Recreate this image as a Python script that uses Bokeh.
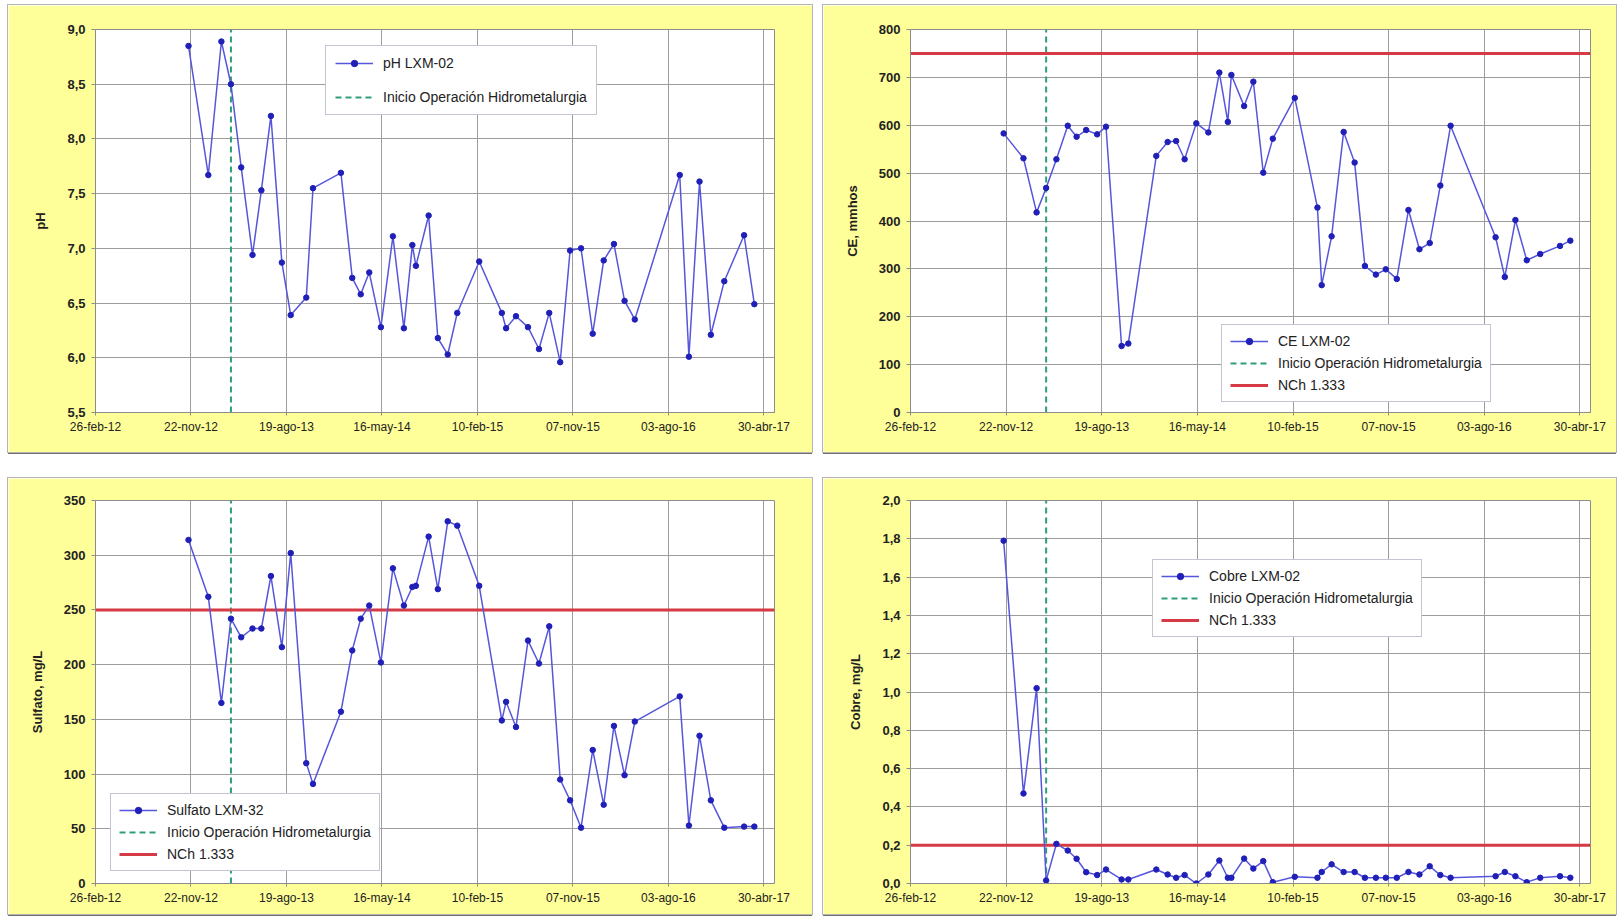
import pandas as pd
from bokeh.plotting import figure
from bokeh.models import (Range1d, FixedTicker, CustomJSTickFormatter,
                          Legend, LegendItem, ColumnDataSource)
from bokeh.layouts import column, row
from bokeh.embed import file_html
from bokeh.resources import INLINE

# ---------------- data ----------------
fechas = [
    "2012-11-15", "2013-01-10", "2013-02-16", "2013-03-15", "2013-04-13",
    "2013-05-15", "2013-06-09", "2013-07-06", "2013-08-06", "2013-08-31",
    "2013-10-14", "2013-11-02", "2014-01-20", "2014-02-21", "2014-03-17",
    "2014-04-10", "2014-05-13", "2014-06-16", "2014-07-17", "2014-08-10",
    "2014-08-20", "2014-09-25", "2014-10-21", "2014-11-18", "2014-12-15",
    "2015-02-15", "2015-04-20", "2015-05-02", "2015-05-30", "2015-07-03",
    "2015-08-03", "2015-09-01", "2015-10-02", "2015-10-30", "2015-11-30",
    "2016-01-02", "2016-02-02", "2016-03-02", "2016-04-01", "2016-04-30",
    "2016-09-04", "2016-09-30", "2016-10-30", "2016-12-01", "2017-01-08",
    "2017-03-05", "2017-04-03",
]

ph = [8.85, 7.67, 8.89, 8.50, 7.74, 6.94, 7.53, 8.21, 6.87, 6.39,
      6.55, 7.55, 7.69, 6.73, 6.58, 6.78, 6.28, 7.11, 6.27, 7.03,
      6.84, 7.30, 6.18, 6.03, 6.41, 6.88, 6.41, 6.27, 6.38, 6.28,
      6.08, 6.41, 5.96, 6.98, 7.00, 6.22, 6.89, 7.04, 6.52, 6.35,
      7.67, 6.01, 7.61, 6.21, 6.70, 7.12, 6.49]

ce = [583, 531, 418, 469, 529, 599, 576, 590, 581, 597,
      139, 144, 536, 565, 567, 529, 604, 585, 710, 607,
      705, 640, 691, 501, 572, 657, 428, 266, 368, 586,
      522, 306, 288, 299, 279, 423, 341, 354, 474, 599,
      366, 283, 402, 318, 331, 348, 359]

sulfato = [314, 262, 165, 242, 225, 233, 233, 281, 216, 302,
           110, 91, 157, 213, 242, 254, 202, 288, 254, 271,
           272, 317, 269, 331, 327, 272, 149, 166, 143, 222,
           201, 235, 95, 76, 51, 122, 72, 144, 99, 148,
           171, 53, 135, 76, 51, 52, 52]

cobre = [1.79, 0.47, 1.02, 0.016, 0.207, 0.172, 0.129, 0.059, 0.044, 0.073,
         0.021, 0.021, 0.073, 0.047, 0.030, 0.044, 0.0, 0.047, 0.12, 0.03,
         0.03, 0.13, 0.078, 0.117, 0.007, 0.035, 0.03, 0.06, 0.10, 0.06,
         0.06, 0.03, 0.03, 0.03, 0.03, 0.06, 0.047, 0.09, 0.044, 0.03,
         0.038, 0.06, 0.038, 0.007, 0.03, 0.038, 0.03]

inicio_operacion = "2013-03-15"
nch_ce = 750
nch_sulfato = 250
nch_cobre = 0.2

x_tick_fechas = ["2012-02-26", "2012-11-22", "2013-08-19", "2014-05-16",
                 "2015-02-10", "2015-11-07", "2016-08-03", "2017-04-30"]
x_tick_labels = ["26-feb-12", "22-nov-12", "19-ago-13", "16-may-14",
                 "10-feb-15", "07-nov-15", "03-ago-16", "30-abr-17"]
x_desde, x_hasta = "2012-02-26", "2017-05-30"

ph_ticks = [5.5, 6.0, 6.5, 7.0, 7.5, 8.0, 8.5, 9.0]
ce_ticks = [0, 100, 200, 300, 400, 500, 600, 700, 800]
sulfato_ticks = [0, 50, 100, 150, 200, 250, 300, 350]
cobre_ticks = [0.0, 0.2, 0.4, 0.6, 0.8, 1.0, 1.2, 1.4, 1.6, 1.8, 2.0]

# ---------------- styling ----------------
FONT = "Liberation Sans"
YELLOW = "#FFFF99"
GRID = "#9c9c9c"
BLUE_LINE = "#5656DC"
BLUE_MARK = "#2020B8"
GREEN = "#2E9E78"
RED = "#D63A44"


def ms(d):
    return pd.Timestamp(d).value / 1e6


x_ticks_ms = [ms(d) for d in x_tick_fechas]
x_dates = pd.to_datetime(fechas)

fmt_x = CustomJSTickFormatter(args=dict(tick_vals=x_ticks_ms, tick_labels=x_tick_labels), code="""
const i = tick_vals.findIndex(t => Math.abs(t - tick) < 1000);
return i >= 0 ? tick_labels[i] : "";
""")
fmt_comma = CustomJSTickFormatter(code="return tick.toFixed(1).replace('.', ',');")


def panel(width, height, borders, values, yticks, ylabel, yfmt, serie_label,
          nch, legend_loc, legend_spacing, legend_padding):
    left, right, top, bottom = borders
    p = figure(width=width, height=height, x_axis_type="datetime",
               x_range=Range1d(ms(x_desde), ms(x_hasta)),
               y_range=Range1d(yticks[0], yticks[-1]),
               output_backend="svg", toolbar_location=None,
               min_border_left=left, min_border_right=right,
               min_border_top=top, min_border_bottom=bottom,
               background_fill_color="white", border_fill_color=YELLOW,
               outline_line_color="#8c8c8c", outline_line_width=1,
               styles={"box-shadow": "0 0 0 1px #b4b4b4, 0 2px 0 0 #6e6e6e"})
    p.xaxis.ticker = FixedTicker(ticks=x_ticks_ms, minor_ticks=[])
    p.yaxis.ticker = FixedTicker(ticks=yticks, minor_ticks=[])
    p.xaxis.formatter = fmt_x
    if yfmt is not None:
        p.yaxis.formatter = yfmt
    for ax in (p.xaxis, p.yaxis):
        ax.axis_line_color = "#8c8c8c"
        ax.major_tick_line_color = "#8c8c8c"
        ax.major_tick_in = 0
        ax.minor_tick_line_color = None
        ax.major_label_text_font = FONT
        ax.major_label_text_color = "#222222"
    p.xaxis.major_tick_out = 3
    p.yaxis.major_tick_out = 4
    p.xaxis.major_label_text_font_size = "12px"
    p.xaxis.major_label_standoff = 4
    p.yaxis.major_label_text_font_size = "13px"
    p.yaxis.major_label_text_font_style = "bold"
    p.yaxis.major_label_standoff = 6
    p.yaxis.axis_label = ylabel
    p.yaxis.axis_label_text_font = FONT
    p.yaxis.axis_label_text_font_size = "13px"
    p.yaxis.axis_label_text_font_style = "bold"
    p.yaxis.axis_label_text_color = "#222222"
    p.yaxis.axis_label_standoff = 16
    p.xgrid.grid_line_color = GRID
    p.ygrid.grid_line_color = GRID

    # start of hydrometallurgy operation: vertical dashed line across the y range
    inicio = pd.to_datetime([inicio_operacion, inicio_operacion])
    r_green = p.line(x=inicio, y=[yticks[0], yticks[-1]],
                     line_color=GREEN, line_width=2, line_dash="6 4")

    items_extra = [LegendItem(label="Inicio Operación Hidrometalurgia", renderers=[r_green])]
    if nch is not None:
        r_red = p.line(x=pd.to_datetime([x_desde, x_hasta]), y=[nch, nch],
                       line_color=RED, line_width=3)
        items_extra.append(LegendItem(label="NCh 1.333", renderers=[r_red]))

    src = ColumnDataSource(dict(fecha=x_dates, valor=values))
    r_line = p.line("fecha", "valor", source=src, line_color=BLUE_LINE, line_width=1.5)
    r_mark = p.scatter("fecha", "valor", source=src, marker="circle", size=5.5,
                       fill_color=BLUE_MARK, line_color=BLUE_MARK)

    items = [LegendItem(label=serie_label, renderers=[r_line, r_mark])] + items_extra

    leg = Legend(items=items, location=legend_loc,
                 background_fill_color="white", background_fill_alpha=1.0,
                 border_line_color="#8a8aa6", border_line_width=1,
                 label_text_font=FONT, label_text_font_size="14px",
                 label_text_color="#222222",
                 glyph_width=38, glyph_height=16, label_height=16,
                 label_standoff=10, spacing=legend_spacing,
                 padding=legend_padding, margin=0)
    p.add_layout(leg)
    return p


p1 = panel(804, 447, (87, 38, 23, 40), ph, ph_ticks, "pH", fmt_comma,
           "pH LXM-02", None, (230, 297), 18, 9)
p2 = panel(793, 447, (87, 26, 24, 40), ce, ce_ticks, "CE, mmhos", None,
           "CE LXM-02", nch_ce, (311, 10), 6, 8)
p3 = panel(804, 436, (87, 38, 22, 31), sulfato, sulfato_ticks, "Sulfato, mg/L", None,
           "Sulfato LXM-32", nch_sulfato, (15, 12), 6, 8)
p4 = panel(793, 436, (87, 26, 22, 31), cobre, cobre_ticks, "Cobre, mg/L", fmt_comma,
           "Cobre LXM-02", nch_cobre, (242, 246), 6, 8)

layout = column(row(p1, p2, spacing=11), row(p3, p4, spacing=11), spacing=26,
                margin=(5, 0, 0, 8))

open("out.html", "w").write(file_html(layout, INLINE))
